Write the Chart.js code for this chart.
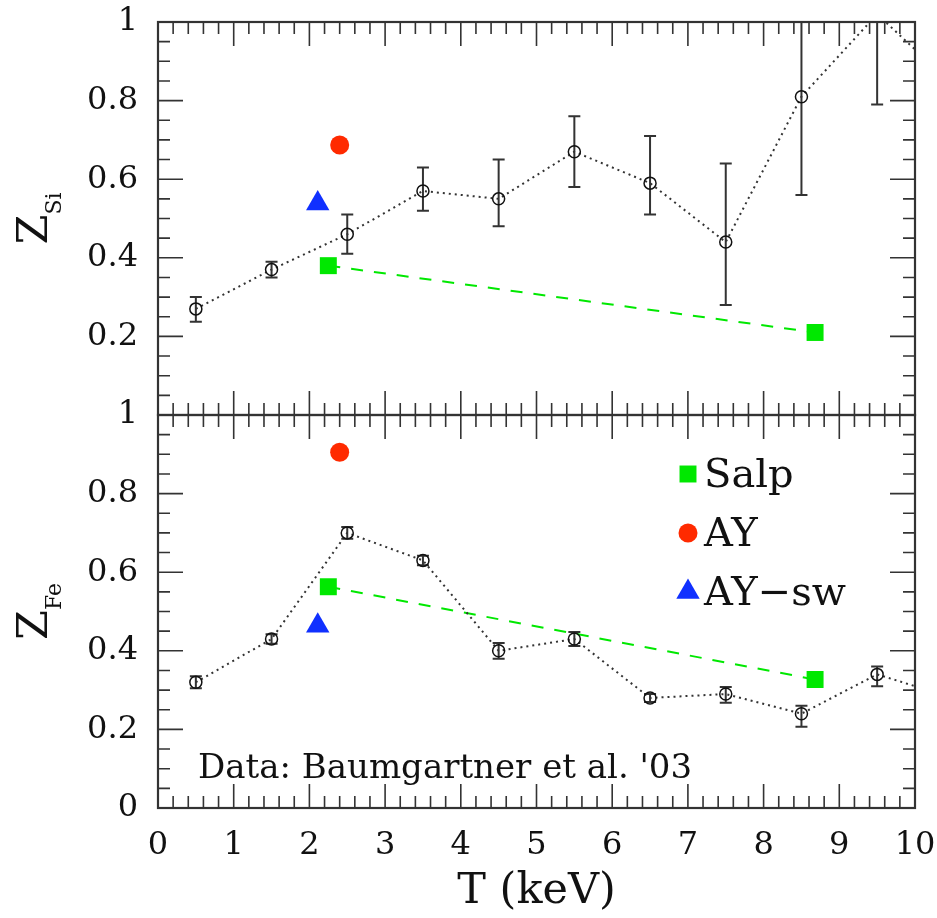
<!DOCTYPE html>
<html>
<head>
<meta charset="utf-8">
<script src="https://cdn.jsdelivr.net/npm/chart.js@4.4.1/dist/chart.umd.min.js"></script>
<style>
  html, body { margin: 0; padding: 0; background: #fff; }
  #wrap { position: relative; width: 937px; height: 918px; }
  #wrap canvas { position: absolute; left: 0; top: 0; }
</style>
</head>
<body>
<div id="wrap">
  <canvas id="chartSi" width="937" height="918"></canvas>
  <canvas id="chartFe" width="937" height="918"></canvas>
</div>
<script>
// temperature bins (keV); the last one sits just past the axis and is clipped
const temps = [0.5, 1.5, 2.5, 3.5, 4.5, 5.5, 6.5, 7.5, 8.5, 9.5, 10.5];

const siValues = [0.27, 0.37, 0.46, 0.57, 0.55, 0.67, 0.59, 0.44, 0.81, 1.02, 0.84];
const siLow    = [0.237, 0.35, 0.41, 0.52, 0.48, 0.58, 0.51, 0.28, 0.56, 0.79, null];
const siHigh   = [0.30, 0.39, 0.51, 0.63, 0.65, 0.76, 0.71, 0.64, 1.10, 1.25, null];

const feValues = [0.32, 0.43, 0.70, 0.63, 0.40, 0.43, 0.28, 0.29, 0.24, 0.34, 0.28];
const feLow    = [0.305, 0.418, 0.685, 0.618, 0.38, 0.412, 0.27, 0.268, 0.207, 0.31, null];
const feHigh   = [0.335, 0.442, 0.715, 0.642, 0.42, 0.448, 0.29, 0.308, 0.26, 0.36, null];

// model points
const salpT  = [2.25, 8.68];
const salpSi = [0.38, 0.21];
const salpFe = [0.563, 0.327];
const ayT    = [2.40];
const aySi   = [0.687];
const ayFe   = [0.905];
const aySwT  = [2.11];
const aySwSi = [0.538];
const aySwFe = [0.464];

// tick labels
const xTickValues  = [0, 1, 2, 3, 4, 5, 6, 7, 8, 9, 10];
const siTickValues = [0.2, 0.4, 0.6, 0.8, 1];
const feTickValues = [0, 0.2, 0.4, 0.6, 0.8, 1];
const xMinorStep = 0.2;
const yMinorStep = 0.05;

const SERIF = '"DejaVu Serif", "Liberation Serif", serif';
Chart.defaults.font.family = SERIF;
Chart.defaults.color = '#111';

const GREEN = '#00e800';
const RED = '#ff2a00';
const BLUE = '#1030ff';

function pts(xs, ys) {
  return xs.map((x, i) => ({ x: x, y: ys[i] }));
}

function panelDatasets(vals, lo, hi, salp, ay, aySw) {
  return [
    {
      label: 'data',
      data: pts(temps, vals),
      showLine: true,
      borderColor: '#333',
      borderWidth: 2,
      borderDash: [2, 4],
      pointStyle: 'circle',
      pointRadius: 6,
      pointBorderWidth: 1.5,
      pointBorderColor: '#111',
      pointBackgroundColor: 'rgba(0,0,0,0)',
      errLow: lo,
      errHigh: hi,
      clip: 0
    },
    {
      label: 'Salp',
      data: pts(salpT, salp),
      showLine: true,
      borderColor: GREEN,
      borderWidth: 2,
      borderDash: [12, 11],
      pointStyle: 'rect',
      pointRadius: 12,
      pointBorderWidth: 0,
      pointBackgroundColor: GREEN,
      clip: 0
    },
    {
      label: 'AY',
      data: pts(ayT, ay),
      pointStyle: 'circle',
      pointRadius: 9.5,
      pointBorderWidth: 0,
      pointBackgroundColor: RED,
      clip: 0
    },
    {
      label: 'AY\u2212sw',
      data: pts(aySwT, aySw),
      pointStyle: 'triangle',
      pointRadius: 13.5,
      pointBorderWidth: 0,
      pointBackgroundColor: BLUE,
      clip: 0
    }
  ];
}

// error bars for datasets that carry errLow / errHigh
const errorBars = {
  id: 'errorBars',
  beforeDatasetsDraw(chart) {
    const { ctx, chartArea: a, scales: { x, y } } = chart;
    ctx.save();
    ctx.beginPath();
    ctx.rect(a.left, a.top, a.right - a.left, a.bottom - a.top);
    ctx.clip();
    ctx.strokeStyle = '#333';
    ctx.lineWidth = 2;
    chart.data.datasets.forEach(ds => {
      if (!ds.errLow) return;
      ds.data.forEach((p, i) => {
        if (ds.errLow[i] == null) return;
        const px = x.getPixelForValue(p.x);
        const y1 = y.getPixelForValue(ds.errLow[i]);
        const y2 = y.getPixelForValue(ds.errHigh[i]);
        ctx.beginPath();
        ctx.moveTo(px, y1); ctx.lineTo(px, y2);
        ctx.moveTo(px - 6, y1); ctx.lineTo(px + 6, y1);
        ctx.moveTo(px - 6, y2); ctx.lineTo(px + 6, y2);
        ctx.stroke();
      });
    });
    ctx.restore();
  }
};

// box frame with inward major/minor ticks on all four sides
const frameTicks = {
  id: 'frameTicks',
  afterDatasetsDraw(chart) {
    const { ctx, chartArea: a, scales: { x, y } } = chart;
    ctx.save();
    ctx.strokeStyle = '#333';
    ctx.lineWidth = 1.6;
    ctx.beginPath();
    const nx = Math.round((x.max - x.min) / xMinorStep);
    for (let i = 0; i <= nx; i++) {
      const px = x.getPixelForValue(x.min + i * xMinorStep);
      const len = i % 5 === 0 ? 24 : 12;
      ctx.moveTo(px, a.top); ctx.lineTo(px, a.top + len);
      ctx.moveTo(px, a.bottom); ctx.lineTo(px, a.bottom - len);
    }
    const ny = Math.round((y.max - y.min) / yMinorStep);
    for (let i = 0; i <= ny; i++) {
      const py = y.getPixelForValue(y.min + i * yMinorStep);
      const len = i % 4 === 0 ? 25 : 12;
      ctx.moveTo(a.left, py); ctx.lineTo(a.left + len, py);
      ctx.moveTo(a.right, py); ctx.lineTo(a.right - len, py);
    }
    ctx.stroke();
    ctx.lineWidth = 2.2;
    ctx.strokeRect(a.left, a.top, a.right - a.left, a.bottom - a.top);
    ctx.restore();
  }
};

// rotated "Z" with a subscript element name
const zTitle = {
  id: 'zTitle',
  afterDraw(chart, args, opts) {
    const { ctx, chartArea: a } = chart;
    const cy = (a.top + a.bottom) / 2;
    ctx.save();
    ctx.translate(47, cy);
    ctx.rotate(-Math.PI / 2);
    ctx.fillStyle = '#111';
    ctx.textBaseline = 'alphabetic';
    ctx.font = '43px ' + SERIF;
    const wz = ctx.measureText('Z').width;
    ctx.font = '22px ' + SERIF;
    const ws = ctx.measureText(opts.sub).width;
    const x0 = -(wz + ws) / 2;
    ctx.font = '43px ' + SERIF;
    ctx.fillText('Z', x0, 0);
    ctx.font = '22px ' + SERIF;
    ctx.fillText(opts.sub, x0 + wz, 14);
    ctx.restore();
  }
};

// legend and credit inside the lower panel
const feExtras = {
  id: 'feExtras',
  afterDraw(chart) {
    const { ctx, chartArea: a } = chart;
    ctx.save();
    ctx.fillStyle = '#111';
    ctx.font = '34px ' + SERIF;
    ctx.textBaseline = 'alphabetic';
    ctx.fillText("Data: Baumgartner et al. '03", a.left + 40, a.bottom - 30);

    const entries = chart.data.datasets.filter(ds => ds.label !== 'data');
    entries.forEach((ds, i) => {
      const my = a.top + 59 + i * 59;
      const mx = a.left + 530;
      ctx.fillStyle = ds.pointBackgroundColor;
      Chart.helpers.drawPoint(ctx, {
        pointStyle: ds.pointStyle,
        radius: ds.pointRadius,
        rotation: 0,
        borderWidth: 0
      }, mx, my);
      ctx.fillStyle = '#111';
      ctx.font = '40px ' + SERIF;
      ctx.fillText(ds.label, mx + 16, my + 13);
    });
    ctx.restore();
  }
};

function yScale(tickValues) {
  return {
    type: 'linear',
    min: 0,
    max: 1,
    afterBuildTicks: s => { s.ticks = tickValues.map(v => ({ value: v })); },
    afterFit: s => { s.width = 158; s.paddingTop = 0; s.paddingBottom = 0; },
    grid: { display: false, drawTicks: false },
    border: { display: false },
    ticks: {
      font: { size: 32 },
      padding: 20,
      color: '#111',
      callback: v => String(Math.round(v * 10) / 10)
    }
  };
}

new Chart(document.getElementById('chartSi'), {
  type: 'scatter',
  data: { datasets: panelDatasets(siValues, siLow, siHigh, salpSi, aySi, aySwSi) },
  options: {
    responsive: false,
    animation: false,
    layout: { padding: { left: 0, top: 22, right: 22, bottom: 503 } },
    scales: {
      x: { type: 'linear', min: 0, max: 10, display: false },
      y: yScale(siTickValues)
    },
    plugins: {
      legend: { display: false },
      tooltip: { enabled: false },
      zTitle: { sub: 'Si' }
    }
  },
  plugins: [errorBars, frameTicks, zTitle]
});

new Chart(document.getElementById('chartFe'), {
  type: 'scatter',
  data: { datasets: panelDatasets(feValues, feLow, feHigh, salpFe, ayFe, aySwFe) },
  options: {
    responsive: false,
    animation: false,
    layout: { padding: { left: 0, top: 415, right: 22, bottom: 0 } },
    scales: {
      x: {
        type: 'linear',
        min: 0,
        max: 10,
        afterBuildTicks: s => { s.ticks = xTickValues.map(v => ({ value: v })); },
        afterFit: s => { s.height = 110; s.paddingLeft = 0; s.paddingRight = 0; },
        grid: { display: false, drawTicks: false },
        border: { display: false },
        ticks: { font: { size: 32 }, padding: 18, color: '#111', maxRotation: 0, autoSkip: false },
        title: {
          display: true,
          text: 'T (keV)',
          font: { size: 43 },
          color: '#111',
          padding: { top: 0, bottom: 0 }
        }
      },
      y: yScale(feTickValues)
    },
    plugins: {
      legend: { display: false },
      tooltip: { enabled: false },
      zTitle: { sub: 'Fe' }
    }
  },
  plugins: [errorBars, frameTicks, zTitle, feExtras]
});
</script>
</body>
</html>
